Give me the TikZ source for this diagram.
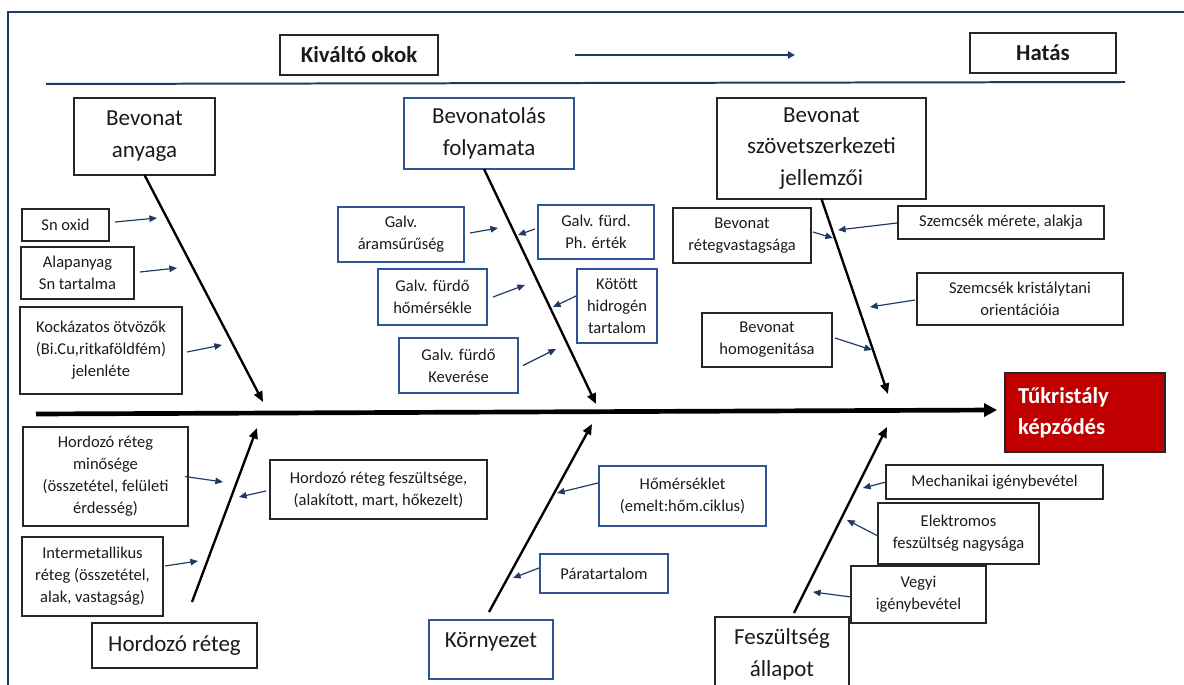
\documentclass[tikz,border=0pt]{standalone}
\usepackage{fontspec}
\setmainfont{Carlito}
\usetikzlibrary{arrows.meta,calc}

\definecolor{navy}{HTML}{1F3864}
\definecolor{boxblue}{HTML}{2F5597}
\definecolor{boxgray}{HTML}{262626}
\definecolor{effectred}{HTML}{C00000}
\definecolor{ink}{HTML}{1A1A1A}

\newcommand\lblsmall{\fontsize{14.1pt}{18.7pt}\selectfont}
\newcommand\lblbig{\fontsize{19.6pt}{27.2pt}\selectfont}
\newcommand\lblhead{\fontsize{19.5pt}{23pt}\selectfont\bfseries}
\newcommand\lblred{\fontsize{19.4pt}{26.4pt}\selectfont\bfseries}

\begin{document}
\begin{tikzpicture}[x=0.03cm,y=-0.03cm,
  at box/.style n args={4}{at={({(#1+#3)/2},{(#2+#4)/2})},
    minimum width={(#3-#1)*0.03cm}, minimum height={(#4-#2)*0.03cm}},
  cause/.style={draw=boxgray, line width=1.1pt, inner sep=0pt, outer sep=0pt,
    align=center, text=ink, font=\lblsmall},
  bluecause/.style={cause, draw=boxblue},
  category/.style={cause, font=\lblbig},
  bluecategory/.style={category, draw=boxblue},
  header/.style={cause, font=\lblhead},
  bone/.style={line width=2pt, -{Triangle[length=9pt,width=7.5pt]}},
  twig/.style={navy, line width=1pt, -{Triangle[length=6.5pt,width=5.5pt]}},
  spine/.style={line width=4pt, -{Triangle[length=11pt,width=11pt]}},
  guide/.style={navy, line width=1.7pt}
]
\useasboundingbox (0,0) rectangle (1184,685);

% outer frame and header band
\coordinate (frameB) at (8,700);
\coordinate (frameC) at (8,12);
\coordinate (frameR) at (1200,12);
\draw[guide] (frameB) -- (frameC) -- (frameR);

\node (causes) [header, at box={280}{35}{438}{75}] {Kiváltó okok};
\node (effecthdr) [header, at box={970}{33}{1116}{73}] {Hatás};
\coordinate (flowA) at (575,55);
\coordinate (flowB) at (795,55);
\draw[navy, line width=1.6pt, -{Triangle[length=6pt,width=6pt]}] (flowA) -- (flowB);
\coordinate (ruleL) at (46,84);
\coordinate (ruleR) at (1125,82);
\draw[guide] (ruleL) -- (ruleR);

% effect
\node (effect) [at box={1005}{373}{1165}{452}, fill=effectred, draw=black!85,
  line width=1.6pt, text=white, font=\lblred, align=left, inner xsep=0.39cm,
  inner ysep=0pt, text width=4.02cm] {Tűkristály\\képződés};

% main categories
\node (anyaga) [category, at box={74}{98}{215}{175}] {Bevonat\\anyaga};
\node (folyamata) [bluecategory, at box={404}{98}{574}{169}] {Bevonatolás\\folyamata};
\node (szovet) [category, at box={717}{98}{926}{199}] {Bevonat\\szövetszerkezeti\\jellemzői};
\node (hordozo) [category, at box={92}{623}{257}{668}] {Hordozó réteg};
\node (korny) [bluecategory, at box={429}{620}{553}{679}, text depth=17pt] {Környezet};
\node (feszall) [category, at box={715}{617}{849}{692}] {Feszültség\\állapot};

% causes: coating material
\node (sn) [cause, at box={22}{209}{109}{241}] {Sn oxid};
\node (alap) [cause, at box={21}{247}{134}{299}] {Alapanyag\\Sn tartalma};
\node (kock) [cause, at box={20}{307}{182}{394}] {Kockázatos ötvözők\\(Bi.Cu,ritkaföldfém)\\jelenléte};

% causes: plating process
\node (aram) [bluecause, at box={338}{207}{464}{262}] {Galv.\\áramsűrűség};
\node (ph) [bluecause, at box={538}{205}{654}{259}] {Galv. fürd.\\Ph. érték};
\node (hom) [bluecause, at box={378}{269}{487}{325}] {Galv. fürdő\\hőmérsékle};
\node (kot) [bluecause, at box={577}{269}{657}{343}] {Kötött\\hidrogén\\tartalom};
\node (kev) [bluecause, at box={399}{338}{518}{393}] {Galv. fürdő\\Keverése};

% causes: microstructure
\node (reteg) [cause, at box={673}{208}{811}{263}] {Bevonat\\rétegvastagsága};
\node (mer) [cause, at box={898}{206}{1104}{239}] {Szemcsék mérete, alakja};
\node (kris) [cause, at box={917}{273}{1123}{325}] {Szemcsék kristálytani\\orientációia};
\node (homog) [cause, at box={702}{313}{832}{367}] {Bevonat\\homogenitása};

% causes: substrate
\node (minos) [cause, at box={23}{427}{188}{526}] {Hordozó réteg\\minősége\\(összetétel, felületi\\érdesség)};
\node (fesz) [cause, at box={270}{460}{487}{519}] {Hordozó réteg feszültsége,\\(alakított, mart, hőkezelt)};
\node (inter) [cause, at box={22}{537}{163}{616}] {Intermetallikus\\réteg (összetétel,\\alak, vastagság)};

% causes: environment
\node (hmr) [bluecause, at box={599}{466}{766}{526}] {Hőmérséklet\\(emelt:hőm.ciklus)};
\node (para) [bluecause, at box={540}{554}{668}{593}] {Páratartalom};

% causes: stress state
\node (mech) [cause, at box={886}{465}{1103}{499}] {Mechanikai igénybevétel};
\node (elek) [cause, at box={878}{503}{1039}{564}] {Elektromos\\feszültség nagysága};
\node (vegy) [cause, at box={851}{566}{986}{623}] {Vegyi\\igénybevétel};

% spine
\coordinate (spineL) at (36,414);
\draw[spine] (spineL) -- ($(effect.west)+(-7,-2.5)$);

% bones
\coordinate (tipA) at (263,402);
\coordinate (tipB) at (596,404);
\coordinate (tipC) at (888,394);
\coordinate (tipD) at (257,428);
\coordinate (tipE) at (592,424);
\coordinate (tipF) at (887,427);
\draw[bone] (anyaga.south) -- (tipA);
\draw[bone] ($(folyamata.south)+(-5,0)$) -- (tipB);
\draw[bone] (szovet.south) -- (tipC);
\draw[bone] ($(hordozo.north)+(17.5,-21)$) -- (tipD);
\draw[bone] ($(korny.north)+(-2,-8)$) -- (tipE);
\draw[bone] ($(feszall.north)+(12,-4)$) -- (tipF);

% twigs
\coordinate (ta1) at (157,218);
\coordinate (ta2) at (177,268);
\coordinate (ta3) at (222,345);
\coordinate (tb1) at (498,228);
\coordinate (tb2) at (518,235);
\coordinate (tb3) at (525,285);
\coordinate (tb4) at (553,307);
\coordinate (tb5) at (556,349);
\coordinate (tc1) at (833,238);
\coordinate (tc2) at (838,230);
\coordinate (tc3) at (870,307);
\coordinate (tc4) at (872,350);
\coordinate (td1) at (223,482);
\coordinate (td2) at (239,497);
\coordinate (td3) at (198,561);
\coordinate (te1) at (557,493);
\coordinate (te2) at (513,578);
\coordinate (tf1) at (863,488);
\coordinate (tf2) at (847,520);
\coordinate (tf3) at (813,592);

\draw[twig] ($(sn.east)+(6,-3)$) -- (ta1);
\draw[twig] ($(alap.east)+(6,-1)$) -- (ta2);
\draw[twig] ($(kock.east)+(5,1.5)$) -- (ta3);
\draw[twig] ($(aram.east)+(6,-1.5)$) -- (tb1);
\draw[twig] ($(ph.west)+(-3,-3)$) -- (tb2);
\draw[twig] ($(hom.east)+(6,0)$) -- (tb3);
\draw[twig] ($(kot.west)+(-1,-10)$) -- (tb4);
\draw[twig] ($(kev.east)+(5,0)$) -- (tb5);
\draw[twig] ($(reteg.east)+(2,-3.5)$) -- (tc1);
\draw[twig] ($(mer.west)+(-1,0.5)$) -- (tc2);
\draw[twig] ($(kris.west)+(-2,1)$) -- (tc3);
\draw[twig] ($(homog.east)+(3,-2)$) -- (tc4);
\draw[twig] ($(minos.east)+(-3,0)$) -- (td1);
\draw[twig] ($(fesz.west)+(-4,1.5)$) -- (td2);
\draw[twig] ($(inter.east)+(2,-10.5)$) -- (td3);
\draw[twig] ($(hmr.west)+(-1,-13)$) -- (te1);
\draw[twig] ($(para.west)+(-1,-5.5)$) -- (te2);
\draw[twig] (mech.west) -- (tf1);
\draw[twig] ($(elek.west)+(0,2.5)$) -- (tf2);
\draw[twig] ($(vegy.west)+(0,2.5)$) -- (tf3);
\end{tikzpicture}
\end{document}
